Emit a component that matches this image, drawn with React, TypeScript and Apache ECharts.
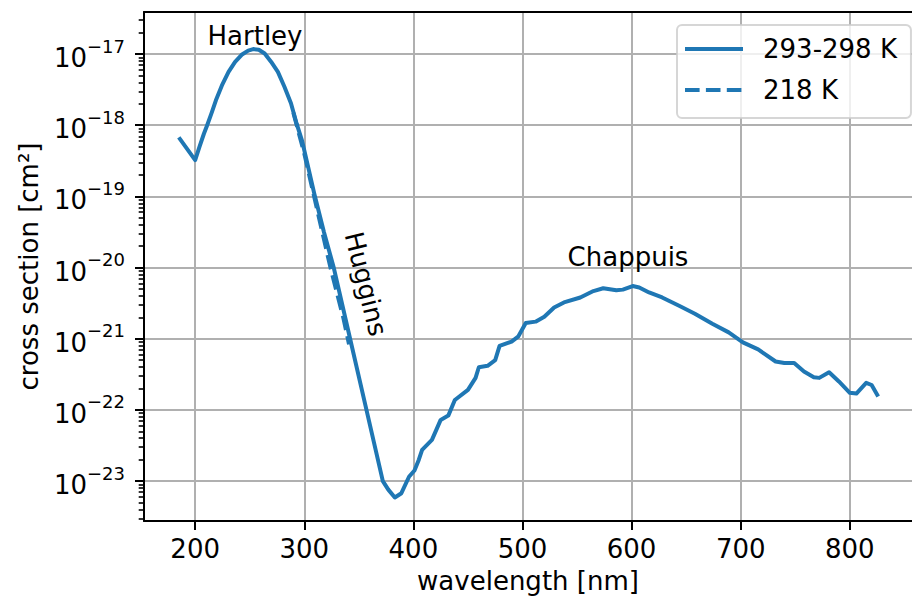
import React, { useEffect, useRef } from 'react';
import * as echarts from 'echarts';

const FONT = '"DejaVu Sans", sans-serif';

// 293-298 K cross section (cm^2) vs wavelength (nm)
const wavelengthRoom = [
  185, 200, 204, 208, 211, 215, 219, 224.5, 230.6, 236.6, 242.6, 248.6, 253.2, 258.3, 263.7, 269.7,
  275.8, 281.8, 287.8, 293, 298, 303, 309, 318, 327, 342, 357, 372, 377, 383,
  389, 396, 401, 405, 408, 417, 425, 432, 438, 450, 457, 460, 468, 475, 479, 490, 496, 503, 512, 520,
  529, 538, 553, 565, 574, 586, 592, 601, 607, 616, 628, 644, 658, 674, 689, 702, 716, 732, 740, 749,
  758, 767, 772, 781, 790, 800, 806, 815, 820, 826,
];
const sigmaRoom = [
  6.76e-19, 3.24e-19, 5.01e-19, 7.59e-19, 1.0e-18, 1.48e-18, 2.24e-18, 3.63e-18, 5.62e-18, 7.76e-18,
  9.77e-18, 1.12e-17, 1.175e-17, 1.15e-17, 1.02e-17, 7.76e-18,
  5.62e-18, 3.47e-18, 2.04e-18, 1.05e-18, 6.03e-19, 2.82e-19, 1.12e-19, 3.16e-20, 1.0e-20, 1.0e-21, 1.0e-22, 1.0e-23, 7.59e-24, 5.89e-24,
  6.76e-24, 1.15e-23, 1.41e-23, 2.0e-23, 2.75e-23, 3.8e-23, 7.24e-23, 8.32e-23, 1.38e-22, 1.91e-22,
  2.82e-22, 3.98e-22, 4.17e-22, 5.01e-22, 7.94e-22, 9.12e-22, 1.07e-21, 1.66e-21, 1.74e-21, 2.04e-21,
  2.75e-21, 3.24e-21, 3.8e-21, 4.68e-21, 5.13e-21, 4.79e-21, 4.9e-21, 5.5e-21, 5.25e-21, 4.47e-21,
  3.8e-21, 2.88e-21, 2.24e-21, 1.62e-21, 1.23e-21, 8.91e-22, 7.08e-22, 4.79e-22, 4.57e-22, 4.57e-22,
  3.47e-22, 2.88e-22, 2.82e-22, 3.39e-22, 2.51e-22, 1.74e-22, 1.7e-22, 2.4e-22, 2.24e-22, 1.55e-22,
];

// 218 K cross section (Huggins band)
const wavelength218 = [290, 300, 312, 324, 336, 341];
const sigma218 = [1.5e-18, 4.0e-19, 6.31e-20, 1.0e-20, 1.91e-21, 8.32e-22];

const seriesNames = ['293-298 K', '218 K'];
const xTickValues = [200, 300, 400, 500, 600, 700, 800];
const yTickValues = [1e-23, 1e-22, 1e-21, 1e-20, 1e-19, 1e-18, 1e-17];
const bandLabels = ['Hartley', 'Huggins', 'Chappuis'];
const xAxisTitle = 'wavelength [nm]';
const yAxisTitle = 'cross section [cm²]';

const X_MIN = 153.1;
const X_MAX = 857;
const Y_MIN = 2.75e-24;
const Y_MAX = 3.9e-17;

const minorTickValues: number[] = [];
for (let e = -24; e <= -17; e++) {
  for (let k = 2; k <= 9; k++) {
    const v = k * Math.pow(10, e);
    if (v > Y_MIN && v < Y_MAX) minorTickValues.push(v);
  }
}

const COLOR = '#1f77b4';

export default function App() {
  const ref = useRef<HTMLDivElement>(null);
  useEffect(() => {
    if (!ref.current) return;
    const chart = echarts.init(ref.current, undefined, { renderer: 'svg' });
    const option: any = {
      animation: false,
      textStyle: { fontFamily: FONT },
      grid: { left: 144, top: 12, width: 779, height: 509, containLabel: false },
      legend: {
        data: seriesNames,
        orient: 'vertical',
        left: 677,
        top: 25,
        itemWidth: 58,
        itemHeight: 26,
        itemGap: 15,
        padding: [11, 14, 15, 6],
        backgroundColor: 'rgba(255,255,255,0.8)',
        borderColor: 'rgba(204,204,204,0.8)',
        borderWidth: 2,
        borderRadius: 5,
        selectedMode: false,
        itemStyle: { opacity: 0 },
        lineStyle: { width: 4 },
        textStyle: { fontSize: 26, lineHeight: 26, color: '#000', fontFamily: FONT, padding: [0, 0, 0, 15] },
        z: 20,
      },
      xAxis: [
        {
          type: 'value',
          min: X_MIN,
          max: X_MAX,
          position: 'bottom',
          name: xAxisTitle,
          nameLocation: 'middle',
          nameGap: 47,
          nameTextStyle: { fontSize: 26, lineHeight: 26, color: '#000', fontFamily: FONT },
          axisLine: { onZero: false, lineStyle: { color: '#000', width: 2 } },
          axisTick: { show: true, inside: false, length: 9, lineStyle: { color: '#000', width: 2 }, customValues: xTickValues },
          axisLabel: { customValues: xTickValues, margin: 15, fontSize: 26, lineHeight: 26, color: '#000', fontFamily: FONT },
          splitLine: { show: true, lineStyle: { color: '#b0b0b0', width: 2 } },
        },
        {
          type: 'value',
          min: X_MIN,
          max: X_MAX,
          position: 'top',
          axisLine: { onZero: false, lineStyle: { color: '#000', width: 2 } },
          axisTick: { show: false },
          axisLabel: { show: false },
          splitLine: { show: false },
        },
      ],
      yAxis: [
        {
          type: 'log',
          logBase: 10,
          min: Y_MIN,
          max: Y_MAX,
          position: 'left',
          name: yAxisTitle,
          nameLocation: 'middle',
          nameGap: 102,
          nameRotate: 90,
          nameTextStyle: { fontSize: 26, lineHeight: 26, color: '#000', fontFamily: FONT },
          axisLine: { show: true, onZero: false, lineStyle: { color: '#000', width: 2 } },
          axisTick: { show: true, inside: false, length: 9, lineStyle: { color: '#000', width: 2 }, customValues: yTickValues },
          axisLabel: {
            customValues: yTickValues,
            margin: 19,
            color: '#000',
            formatter: (v: number) => {
              const e = Math.round(Math.log10(v));
              return `{b|10}{s|${e < 0 ? '\u2212' : ''}${Math.abs(e)}}`;
            },
            rich: {
              b: { fontSize: 26, fontFamily: FONT, color: '#000', lineHeight: 34, verticalAlign: 'bottom' },
              s: { fontSize: 18, fontFamily: FONT, color: '#000', lineHeight: 17, verticalAlign: 'top' },
            },
          },
          splitLine: { show: true, lineStyle: { color: '#b0b0b0', width: 2 } },
        },
        {
          type: 'log',
          logBase: 10,
          min: Y_MIN,
          max: Y_MAX,
          position: 'left',
          axisLine: { show: false },
          axisLabel: { show: false },
          splitLine: { show: false },
          axisTick: { show: true, inside: false, length: 5.3, lineStyle: { color: '#000', width: 1.6 }, customValues: minorTickValues },
        },
      ],
      series: [
        {
          name: seriesNames[0],
          type: 'line',
          xAxisIndex: 0,
          yAxisIndex: 0,
          data: wavelengthRoom.map((w, i) => [w, sigmaRoom[i]]),
          symbol: 'none',
          itemStyle: { color: COLOR },
          lineStyle: { color: COLOR, width: 4, join: 'round', cap: 'butt' },
          z: 3,
        },
        {
          name: seriesNames[1],
          type: 'line',
          xAxisIndex: 0,
          yAxisIndex: 0,
          data: wavelength218.map((w, i) => [w, sigma218[i]]),
          symbol: 'none',
          itemStyle: { color: COLOR },
          lineStyle: { color: COLOR, width: 4, type: [14.6, 6.3], join: 'round' },
          z: 4,
        },
      ],
      graphic: [
        {
          type: 'text', x: 255, y: 36, z: 10,
          style: { text: bandLabels[0], fontSize: 26, fontFamily: FONT, fill: '#000', align: 'center', verticalAlign: 'middle', textAlign: 'center', textVerticalAlign: 'middle' },
        },
        {
          type: 'text', x: 366, y: 284, rotation: -1.33, z: 10,
          style: { text: bandLabels[1], fontSize: 26, fontFamily: FONT, fill: '#000', align: 'center', verticalAlign: 'middle', textAlign: 'center', textVerticalAlign: 'middle' },
        },
        {
          type: 'text', x: 628, y: 257, z: 10,
          style: { text: bandLabels[2], fontSize: 26, fontFamily: FONT, fill: '#000', align: 'center', verticalAlign: 'middle', textAlign: 'center', textVerticalAlign: 'middle' },
        },
      ],
    };
    chart.setOption(option);
    return () => chart.dispose();
  }, []);
  return (
    <div
      ref={ref}
      style={{ position: 'absolute', left: 0, top: 0, width: 912, height: 600, background: '#fff' }}
    />
  );
}
